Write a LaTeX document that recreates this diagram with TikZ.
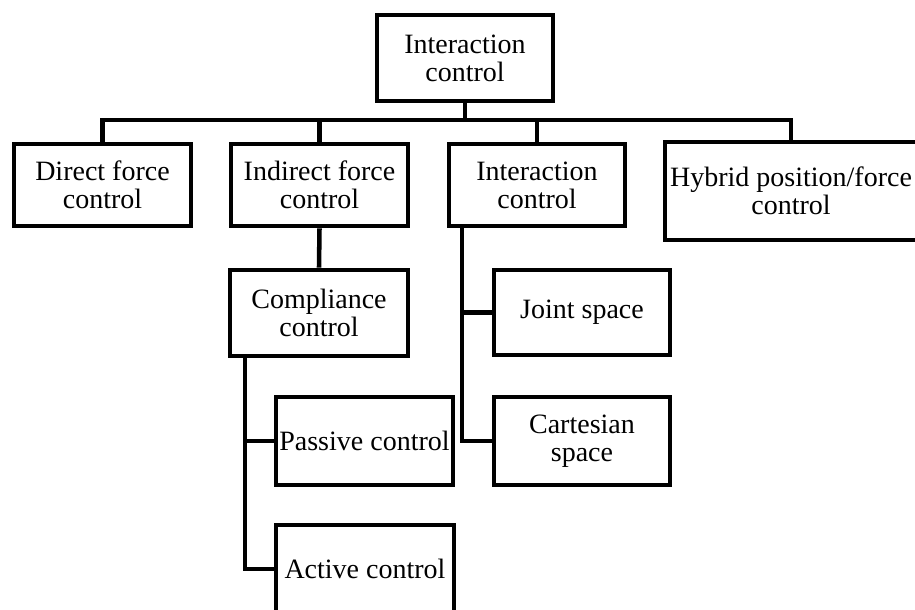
\documentclass[tikz,border=0pt]{standalone}
\usepackage{fontspec}
\setmainfont{Liberation Serif}
\usetikzlibrary{calc}

\tikzset{
  ctrlbox/.style={draw, line width=3.6pt, inner sep=0pt, align=center,
    font=\fontsize{21}{21}\selectfont},
  link/.style={line width=3.4pt}
}

\begin{document}
\begin{tikzpicture}[x=0.75pt, y=-0.75pt]
        \useasboundingbox (0,0) rectangle (915,610);
        \node[ctrlbox, minimum width=132pt, minimum height=64.5pt] (top) at (465,58) {Interaction\\control};
        \node[ctrlbox, minimum width=132.75pt, minimum height=61.5pt] (direct) at (102.5,185) {Direct force\\control};
        \node[ctrlbox, minimum width=132.75pt, minimum height=61.5pt] (indirect) at (319.5,185) {Indirect force\\control};
        \node[ctrlbox, minimum width=132pt, minimum height=61.5pt] (inter) at (537,185) {Interaction\\control};
        \node[ctrlbox, minimum width=189pt, minimum height=73.5pt] (hybrid) at (791,191) {Hybrid position/force\\control};
        \node[ctrlbox, minimum width=133.5pt, minimum height=64.5pt] (compl) at (319,313) {Compliance\\control};
        \node[ctrlbox, minimum width=132.75pt, minimum height=66pt] (passive) at (364.5,441) {Passive control};
        \node[ctrlbox, minimum width=133.5pt, minimum height=66pt] (active) at (365,569) {Active control};
        \node[ctrlbox, minimum width=132pt, minimum height=63.75pt] (joint) at (582,312.5) {Joint space};
        \node[ctrlbox, minimum width=132pt, minimum height=66pt] (cart) at (582,441) {Cartesian\\space};
        \coordinate (bus) at (465,120);
        \draw[link] (top.south) -- (bus);
        \draw[link] (direct.north) -- (direct.north |- bus) -- (hybrid.north |- bus) -- (hybrid.north);
        \foreach \n in {indirect,inter}
        \draw[link] (\n.north) -- (\n.north |- bus);
        \draw[link] (indirect.south) -- (compl.north);
        \foreach \n in {passive,active}
        \draw[link] ($(compl.south west)+(17.5,0)$) |- (\n.west);
        \foreach \n in {joint,cart}
        \draw[link] ($(inter.south west)+(15.5,0)$) |- (\n.west);
    \end{tikzpicture}
\end{document}
